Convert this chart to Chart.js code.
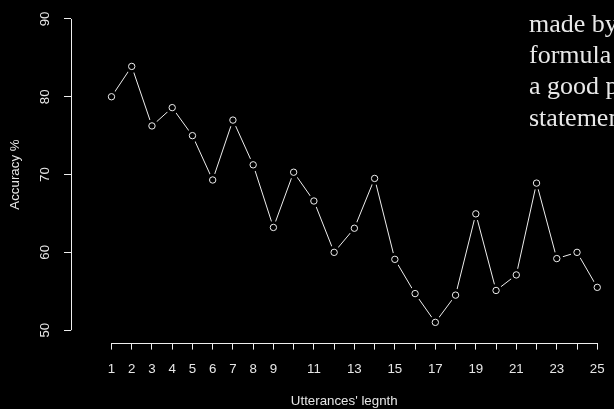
<!DOCTYPE html>
<html>
<head>
<meta charset="utf-8">
<script src="https://cdn.jsdelivr.net/npm/chart.js@4/dist/chart.umd.min.js"></script>
<style>
  html, body { margin: 0; padding: 0; background: #000; overflow: hidden; width: 614px; height: 409px; }
  #wrap { position: relative; width: 624px; height: 409px; }
  #nota {
    position: absolute; left: 529px; top: 8px;
    font-family: 'Liberation Serif', serif; font-size: 26px; line-height: 31.2px;
    color: #e8e8e8; white-space: nowrap;
  }
</style>
</head>
<body>
<div id="wrap">
  <canvas id="grafico" width="624" height="409"></canvas>
  <div id="nota">
    <div>made by the</div>
    <div>formula</div>
    <div>a good point</div>
    <div>statement</div>
  </div>
</div>
<script>
// ─── Dados ────────────────────────────────────────────────────────────────────
const COMPRIMENTOS = [1, 2, 3, 4, 5, 6, 7, 8, 9, 10, 11, 12, 13, 14, 15, 16, 17, 18, 19, 20, 21, 22, 23, 24, 25];
const ACURACIA     = [80.0, 83.9, 76.25, 78.6, 75.0, 69.3, 77.0, 71.25, 63.2, 70.3, 66.6, 60.0, 63.1,
                      69.5, 59.1, 54.7, 51.0, 54.5, 64.95, 55.1, 57.1, 68.9, 59.2, 60.0, 55.5];
const X_TICKS      = COMPRIMENTOS;
const X_LABELS     = ['1', '2', '3', '4', '5', '6', '7', '8', '9', '', '11', '', '13', '', '15', '',
                      '17', '', '19', '', '21', '', '23', '', '25'];
const Y_TICKS      = [50, 60, 70, 80, 90];

// ─── Estilo ───────────────────────────────────────────────────────────────────
const COR_TEXTO = '#e6e6e6';
const COR_LINHA = '#eeeeee';
const FONTE     = { family: "'Liberation Sans', Arial, sans-serif", size: 13.3 };

const pontos = COMPRIMENTOS.map((c, i) => ({ x: c, y: ACURACIA[i] }));

// linha do eixo só do primeiro ao último tick (estilo R)
const eixosR = {
  id: 'eixosR',
  afterDraw(chart) {
    const { ctx, scales: { x, y }, chartArea } = chart;
    ctx.save();
    ctx.strokeStyle = COR_LINHA;
    ctx.lineWidth = 1;
    ctx.beginPath();
    const xa = Math.round(chartArea.left) + 0.5;
    ctx.moveTo(xa, y.getPixelForValue(Y_TICKS[0]));
    ctx.lineTo(xa, y.getPixelForValue(Y_TICKS[Y_TICKS.length - 1]));
    const ya = Math.round(chartArea.bottom) + 0.5;
    ctx.moveTo(x.getPixelForValue(X_TICKS[0]), ya);
    ctx.lineTo(x.getPixelForValue(X_TICKS[X_TICKS.length - 1]), ya);
    ctx.stroke();
    ctx.restore();
  },
};

new Chart(document.getElementById('grafico'), {
  type: 'line',
  data: {
    datasets: [
      // círculos abertos (por cima)
      { data: pontos, showLine: false, pointRadius: 3.2, pointBorderWidth: 1,
        pointBackgroundColor: '#000', pointBorderColor: COR_LINHA },
      // máscara preta: o "gap" do type = "b"
      { data: pontos, showLine: false, pointRadius: 6.5, pointBorderWidth: 0,
        pointBackgroundColor: '#000', pointBorderColor: '#000' },
      // a linha
      { data: pontos, borderColor: COR_LINHA, borderWidth: 1, pointRadius: 0, tension: 0 },
    ],
  },
  options: {
    responsive: false, animation: false, devicePixelRatio: 1,
    layout: { padding: { top: 2.4, left: 0, right: 0, bottom: 0 } },
    plugins: { legend: { display: false }, tooltip: { enabled: false } },
    scales: {
      x: {
        type: 'linear', min: -1, max: 26,
        afterBuildTicks: s => { s.ticks = X_TICKS.map(v => ({ value: v })); },
        afterFit: s => { s.height = 66.4; s.paddingLeft = 0; s.paddingRight = 0; },
        border: { display: false },
        grid: { drawOnChartArea: false, drawTicks: true, tickLength: 7, color: COR_LINHA },
        ticks: {
          autoSkip: false, maxRotation: 0, color: COR_TEXTO, font: FONTE, padding: 12,
          callback: (v, i) => X_LABELS[i],
        },
        title: { display: true, text: "Utterances' legnth", color: COR_TEXTO, font: FONTE,
                 padding: { top: 0, bottom: 0 } },
      },
      y: {
        min: 48.4, max: 91.6,
        afterBuildTicks: s => { s.ticks = Y_TICKS.map(v => ({ value: v })); },
        afterFit: s => { s.width = 71; s.paddingTop = 0; s.paddingBottom = 0; },
        border: { display: false },
        grid: { drawOnChartArea: false, drawTicks: true, tickLength: 7, color: COR_LINHA },
        ticks: {
          minRotation: 90, maxRotation: 90, crossAlign: 'center', padding: 11,
          color: COR_TEXTO, font: FONTE, callback: v => String(v),
        },
        title: { display: true, text: 'Accuracy %', color: COR_TEXTO, font: FONTE,
                 padding: { top: 7, bottom: 0 } },
      },
    },
  },
  plugins: [eixosR],
});
</script>
</body>
</html>
